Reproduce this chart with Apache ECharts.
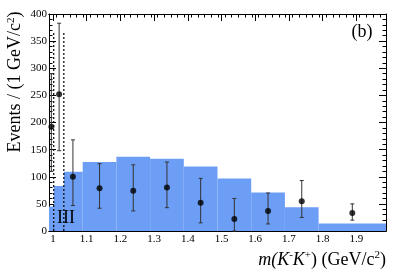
<!DOCTYPE html>
<html><head><meta charset="utf-8">
<script src="https://cdn.jsdelivr.net/npm/echarts@6/dist/echarts.min.js"></script>
<style>html,body{margin:0;padding:0;background:#fff}#c{width:407px;height:276px}</style>
</head><body><div id="c"></div>
<script>
// ---- data ----
const binEdges  = [0.988, 1.002, 1.032, 1.088, 1.188, 1.288, 1.388, 1.488, 1.588, 1.688, 1.788, 1.988];
const binValues = [45, 83, 109, 127, 137, 133, 119, 97, 71, 44, 14];
const pointX    = [0.995, 1.018, 1.059, 1.138, 1.238, 1.338, 1.438, 1.538, 1.638, 1.738, 1.888];
const pointY    = [192, 252, 100, 79, 74, 80, 52, 22, 37, 55, 33];
const errLow    = [110, 148, 47, 42, 37, 43, 15, 0, 13, 25, 20];
const errHigh   = [290, 383, 168, 124, 122, 127, 97, 60, 70, 93, 50];
const cutX      = [1.002, 1.032];
const cutTop    = 365;
const xTickValues = [1, 1.1, 1.2, 1.3, 1.4, 1.5, 1.6, 1.7, 1.8, 1.9];
const xMin = 0.988, xMax = 1.988;
const yMin = 0, yMax = 400, yStep = 50;

// minor x ticks every 0.02
const xMinor = [];
for (let k = 0; k <= 50; k++) {
  const v = Math.round((0.99 + 0.02 * k) * 1000) / 1000;
  if (v > xMax) break;
  if (!xTickValues.some(t => Math.abs(t - v) < 1e-6)) xMinor.push(v);
}

const histData = binValues.map((v, i) => [binEdges[i], binEdges[i + 1], v]);
const errData = pointX.map((x, i) => [x, errLow[i], errHigh[i]]);
const ptData = pointX.map((x, i) => [x, pointY[i]]);
const cutData = cutX.map(x => [x, 0, cutTop]);

const SERIF = "'Liberation Serif', 'DejaVu Serif', serif";
const fmt = v => String(Math.round(v * 10) / 10);

function xAxisDef(pos, major, showLabel) {
  return {
    type: 'value', min: xMin, max: xMax, position: pos,
    axisLine: { show: true, onZero: false, lineStyle: { color: '#000', width: 1 } },
    axisTick: { show: true, inside: true, length: major ? 7 : 3.5, customValues: major ? xTickValues : xMinor,
                lineStyle: { color: '#000', width: 1 } },
    axisLabel: { show: showLabel, customValues: xTickValues, formatter: fmt, fontFamily: SERIF, fontSize: 11,
                 color: '#000', margin: 3 },
    splitLine: { show: false }
  };
}
function yAxisDef(pos, showLabel) {
  return {
    type: 'value', min: yMin, max: yMax, interval: yStep, position: pos,
    axisLine: { show: true, onZero: false, lineStyle: { color: '#000', width: 1 } },
    axisTick: { show: true, inside: true, length: 7, lineStyle: { color: '#000', width: 1 } },
    minorTick: { show: true, splitNumber: 5, length: 3.5, lineStyle: { color: '#000', width: 1 } },
    axisLabel: { show: showLabel, fontFamily: SERIF, fontSize: 11, color: '#000', margin: 2 },
    splitLine: { show: false }, minorSplitLine: { show: false }
  };
}

const chart = echarts.init(document.getElementById('c'), null, { renderer: 'canvas' });
chart.setOption({
  animation: false,
  backgroundColor: '#fff',
  grid: { left: 49, right: 21, top: 14, bottom: 45, containLabel: false },
  xAxis: [xAxisDef('bottom', true, true), xAxisDef('bottom', false, false),
          xAxisDef('top', true, false), xAxisDef('top', false, false)],
  yAxis: [yAxisDef('left', true), yAxisDef('right', false)],
  series: [
    {
      type: 'custom', xAxisIndex: 0, yAxisIndex: 0, data: histData, z: 1,
      encode: { x: [0, 1], y: 2 },
      renderItem: (params, api) => {
        const p0 = api.coord([api.value(0), api.value(2)]);
        const p1 = api.coord([api.value(1), 0]);
        return { type: 'rect', shape: { x: p0[0], y: p0[1], width: p1[0] - p0[0], height: p1[1] - p0[1] },
                 style: { fill: '#6d9ef6' } };
      }
    },
    {
      type: 'custom', xAxisIndex: 0, yAxisIndex: 0, data: cutData, z: 3,
      encode: { x: 0, y: [1, 2] },
      renderItem: (params, api) => {
        const a = api.coord([api.value(0), api.value(1)]);
        const b = api.coord([api.value(0), api.value(2)]);
        return { type: 'line', shape: { x1: a[0], y1: a[1], x2: b[0], y2: b[1] },
                 style: { stroke: '#000', lineWidth: 1.2, lineDash: [2, 2] } };
      }
    },
    {
      type: 'custom', xAxisIndex: 0, yAxisIndex: 0, data: errData, z: 4,
      encode: { x: 0, y: [1, 2] },
      renderItem: (params, api) => {
        const lo = api.coord([api.value(0), api.value(1)]);
        const hi = api.coord([api.value(0), api.value(2)]);
        const c = 2;
        const st = { stroke: '#333', lineWidth: 1 };
        return { type: 'group', children: [
          { type: 'line', shape: { x1: lo[0], y1: lo[1], x2: hi[0], y2: hi[1] }, style: st },
          { type: 'line', shape: { x1: lo[0] - c, y1: lo[1], x2: lo[0] + c, y2: lo[1] }, style: st },
          { type: 'line', shape: { x1: hi[0] - c, y1: hi[1], x2: hi[0] + c, y2: hi[1] }, style: st }
        ] };
      }
    },
    {
      type: 'scatter', xAxisIndex: 0, yAxisIndex: 0, data: ptData, z: 5,
      symbol: 'circle', symbolSize: 6, itemStyle: { color: '#000' }
    }
  ],
  graphic: [
    { type: 'text', left: null, x: 362, y: 32, z: 10,
      style: { text: '(b)', font: "18px " + SERIF, fill: '#000', align: 'center', verticalAlign: 'middle' } },
    { type: 'text', x: 66, y: 218, z: 10,
      style: { text: 'III', font: "18px " + SERIF, fill: '#000', align: 'center', verticalAlign: 'middle' } },
    { type: 'text', x: 15.5, y: 82, rotation: Math.PI / 2, z: 10,
      style: { text: 'Events / (1 GeV/c{sup|2})', font: "18px " + SERIF, fill: '#000',
               align: 'center', verticalAlign: 'middle',
               rich: { sup: { fontSize: 11, fontFamily: SERIF, verticalAlign: 'top', lineHeight: 20 } } } },
    { type: 'text', x: 386, y: 260, z: 10,
      style: { text: '{i|m(K}{sup|-}{i|K}{sup|+}) (GeV/c{sup|2})', font: "18px " + SERIF, fill: '#000',
               align: 'right', verticalAlign: 'middle',
               rich: { i: { fontStyle: 'italic', fontSize: 18, fontFamily: SERIF },
                       sup: { fontSize: 11, fontFamily: SERIF, verticalAlign: 'top', lineHeight: 20 } } } }
  ]
});
</script>
</body></html>
